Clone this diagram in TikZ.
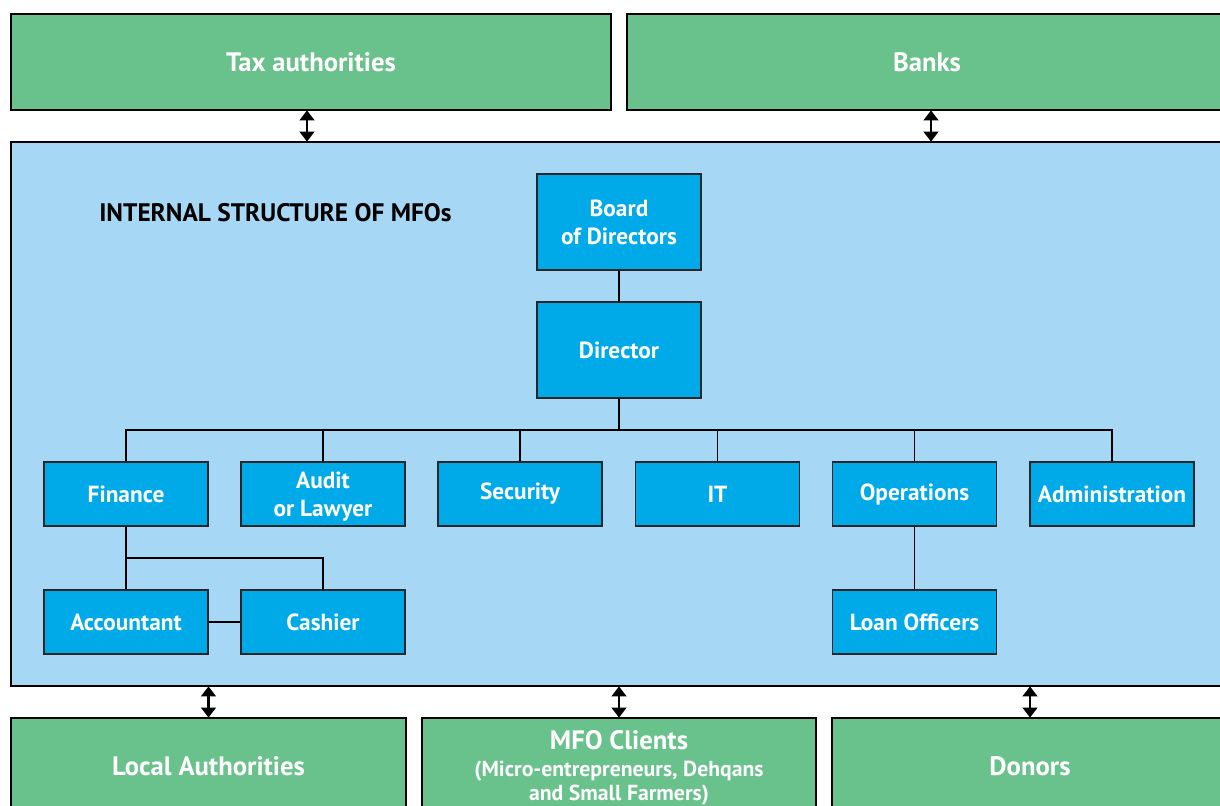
\documentclass[tikz,border=0pt]{standalone}
\usepackage{fontspec}
\setmainfont{PT Sans}
\usetikzlibrary{arrows.meta}
\definecolor{grn}{HTML}{69C18B}
\definecolor{lblue}{HTML}{A6D8F5}
\definecolor{nblue}{HTML}{00A9E8}
\tikzset{
  outer/.style={draw=black, line width=1.6pt, fill=grn, text=white, inner sep=0pt,
     font=\fontsize{20}{24}\selectfont\bfseries, align=center},
  unit/.style={draw=black!85, line width=0.8pt, fill=nblue, text=white, inner sep=0pt,
     minimum width=123pt, font=\fontsize{17.5}{21}\selectfont\bfseries, align=center},
  tall/.style={unit, minimum height=72pt},
  short/.style={unit, minimum height=48pt},
  conn/.style={draw=black, line width=0.8pt},
  dar/.style={line width=1.8pt, {Triangle[width=11pt,length=7.5pt]}-{Triangle[width=11pt,length=7.5pt]}, shorten <=-0.5pt, shorten >=-0.5pt}
}
\begin{document}
\begin{tikzpicture}[x=0.75pt,y=-0.75pt]
\clip (0,0) rectangle (1220,806);
\fill[white] (0,0) rectangle (1220,806);
\node[outer, minimum width=450pt, minimum height=72pt] (tax) at (311,62) {Tax authorities};
\node[outer, minimum width=450pt, minimum height=72pt] (banks) at (927,62) {Banks};
\node[draw=black, line width=1.6pt, fill=lblue, inner sep=0pt, minimum width=914.25pt, minimum height=408pt] (main) at (620.5,414) {};
\node[outer, minimum width=296.25pt, minimum height=72pt] (local) at (208.5,766) {Local Authorities};
\node[outer, minimum width=295.5pt, minimum height=72pt] (clients) at (619,766) {};
\node[font=\fontsize{20}{24}\selectfont\bfseries, text=white, align=center, inner sep=0pt, anchor=base] (clientsA) at (619,749) {MFO Clients};
\node[font=\fontsize{16.3}{18}\selectfont\bfseries, text=white, align=center, inner sep=0pt, anchor=base] (clientsB) at (619,776) {(Micro-entrepreneurs, Dehqans};
\node[font=\fontsize{16.3}{18}\selectfont\bfseries, text=white, align=center, inner sep=0pt, anchor=base] (clientsC) at (619,800) {and Small Farmers)};
\node[outer, minimum width=297pt, minimum height=72pt] (donors) at (1030,766) {Donors};

\node[anchor=west, inner sep=0pt, font=\fontsize{19}{22}\selectfont\bfseries, text=black] (title) at (99,213) {INTERNAL STRUCTURE OF MFOs};

\node[tall] (board) at (619,222) {Board\\of Directors};
\node[tall] (director) at (619,350) {Director};
\node[short] (finance) at (126,494) {Finance};
\node[short, text depth=0pt] (audit) at (323,494) {Audit\\or Lawyer};
\node[short] (security) at (520,494) {Security};
\node[short] (it) at (717.5,494) {IT};
\node[short] (operations) at (914.5,494) {Operations};
\node[short] (admin) at (1112,494) {Administration};
\node[short] (accountant) at (126,622) {Accountant};
\node[short] (cashier) at (323,622) {Cashier};
\node[short] (loan) at (914.5,622) {Loan Officers};

\coordinate (bus) at (619,430);
\coordinate (fbus) at (126,558);

\draw[conn] (board) -- (director);
\draw[conn] (director) -- (bus);
\draw[conn] (finance.north) |- (bus) -| (admin.north);
\draw[conn] (audit.north) -- (audit.north |- bus);
\draw[conn] (security.north) -- (security.north |- bus);
\draw[conn] (it.north) -- (it.north |- bus);
\draw[conn] (operations.north) -- (operations.north |- bus);
\draw[conn] (finance) -- (accountant);
\draw[conn] (fbus) -| (cashier.north);
\draw[conn] (accountant) -- (cashier);
\draw[conn] (operations) -- (loan);

\draw[dar] (tax.south -| 307,0) -- (main.north -| 307,0);
\draw[dar] (banks.south -| 931,0) -- (main.north -| 931,0);
\draw[dar] (main.south -| local.north) -- (local.north);
\draw[dar] (main.south -| clients.north) -- (clients.north);
\draw[dar] (main.south -| donors.north) -- (donors.north);
\end{tikzpicture}
\end{document}
